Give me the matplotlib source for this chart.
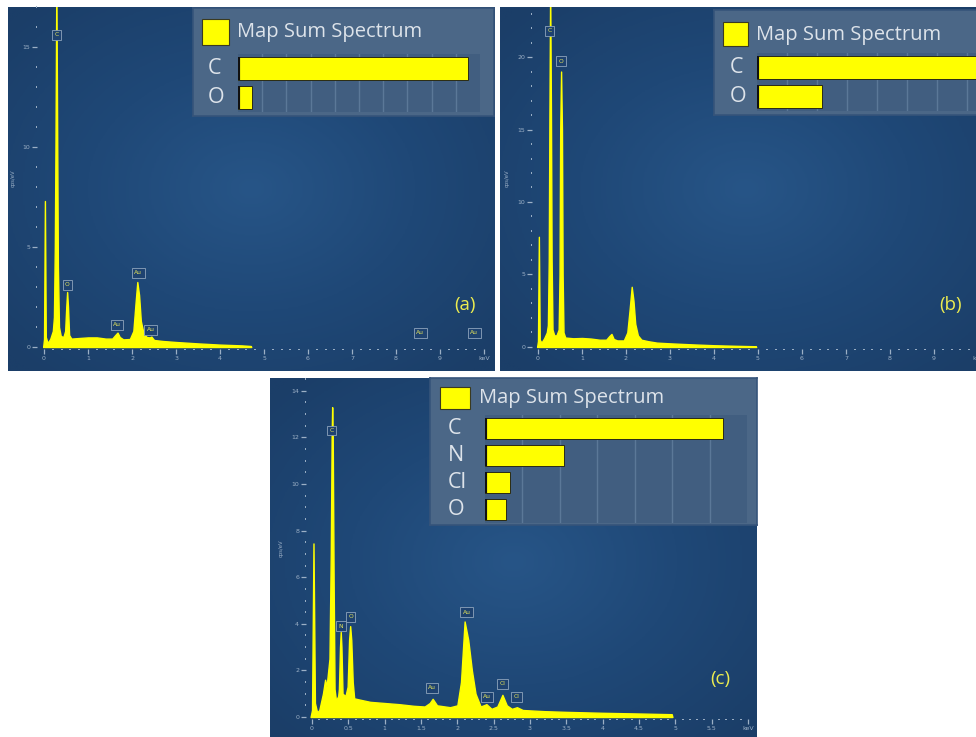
import numpy as np
import matplotlib
matplotlib.use("Agg")
import matplotlib.pyplot as plt
import matplotlib.transforms as mtransforms
from matplotlib.patches import Rectangle
from matplotlib.colors import LinearSegmentedColormap

W, H = 976, 737

# --- spectra (energy in keV, counts in cps/eV) ---
a_kev = [-0.02, 0.0, 0.02, 0.04, 0.08, 0.14, 0.2, 0.225, 0.245, 0.26, 0.28, 0.30,
         0.315, 0.34, 0.38, 0.44, 0.48, 0.505, 0.525, 0.545, 0.57, 0.62, 0.8, 1.0,
         1.2, 1.4, 1.55, 1.62, 1.67, 1.72, 1.8, 1.95, 2.03, 2.08, 2.12, 2.16, 2.2,
         2.26, 2.33, 2.4, 2.44, 2.5, 2.7, 3.0, 3.5, 4.0, 4.5, 4.7, 4.71]
a_cps = [0, 0.4, 7.3, 0.5, 0.2, 0.4, 0.8, 1.5, 5.0, 10.0, 18.5, 10.0,
         4.0, 1.0, 0.55, 0.5, 0.8, 2.0, 2.75, 2.0, 0.6, 0.42, 0.45, 0.48,
         0.48, 0.42, 0.42, 0.6, 0.72, 0.5, 0.38, 0.4, 0.8, 2.2, 3.25, 2.6, 1.3,
         0.7, 0.5, 0.48, 0.52, 0.35, 0.3, 0.25, 0.18, 0.12, 0.08, 0.05, 0]

b_kev = [-0.02, 0.0, 0.02, 0.04, 0.08, 0.14, 0.2, 0.225, 0.245, 0.26, 0.277, 0.295,
         0.31, 0.33, 0.37, 0.42, 0.47, 0.49, 0.505, 0.525, 0.545, 0.56, 0.58, 0.62,
         0.8, 1.0, 1.2, 1.4, 1.55, 1.62, 1.67, 1.72, 1.8, 1.95, 2.03, 2.08, 2.13,
         2.17, 2.21, 2.27, 2.35, 2.5, 2.7, 3.0, 3.5, 4.0, 4.5, 4.95, 4.96]
b_cps = [0, 0.4, 7.6, 0.5, 0.3, 0.6, 1.0, 1.5, 6.0, 16.0, 25.0, 16.0,
         6.0, 1.2, 0.8, 0.8, 1.2, 5.0, 15.0, 19.0, 15.0, 5.0, 1.0, 0.65,
         0.6, 0.62, 0.58, 0.5, 0.5, 0.75, 0.9, 0.55, 0.45, 0.45, 1.0, 2.5, 4.15,
         3.2, 1.6, 0.8, 0.5, 0.4, 0.3, 0.25, 0.18, 0.12, 0.08, 0.05, 0]

c_kev = [-0.02, 0.0, 0.02, 0.04, 0.07, 0.1, 0.15, 0.18, 0.2, 0.22, 0.24, 0.258,
         0.27, 0.277, 0.285, 0.297, 0.31, 0.33, 0.36, 0.37, 0.385, 0.395, 0.405,
         0.42, 0.46, 0.49, 0.51, 0.525, 0.54, 0.56, 0.58, 0.65, 0.8, 1.0, 1.2, 1.4,
         1.55, 1.62, 1.66, 1.72, 1.9, 2.0, 2.05, 2.1, 2.15, 2.2, 2.25, 2.32, 2.4,
         2.47, 2.55, 2.62, 2.68, 2.75, 2.82, 2.9, 3.2, 3.5, 4.0, 4.5, 4.95, 4.96]
c_cps = [0, 0.3, 7.45, 0.6, 0.2, 0.3, 1.0, 1.6, 1.3, 1.9, 2.5, 7.0,
         12.0, 13.3, 12.0, 6.0, 1.2, 0.7, 0.9, 1.2, 3.0, 3.65, 3.0,
         1.0, 0.9, 1.3, 3.3, 3.9, 3.3, 1.5, 0.8, 0.75, 0.65, 0.6, 0.55, 0.48,
         0.45, 0.6, 0.78, 0.5, 0.42, 0.5, 1.5, 4.1, 3.3, 2.0, 1.0, 0.45, 0.55,
         0.35, 0.45, 0.95, 0.5, 0.35, 0.42, 0.3, 0.25, 0.22, 0.18, 0.15, 0.12, 0]

# peak markers: element, energy, height of the label box
a_peak_el = ["C", "O", "Au", "Au", "Au", "Au", "Au"]
a_peak_kev = [0.29, 0.53, 1.66, 2.14, 2.42, 8.55, 9.78]
a_peak_cps = [15.6, 3.1, 1.1, 3.7, 0.85, 0.7, 0.7]

b_peak_el = ["C", "O"]
b_peak_kev = [0.27, 0.52]
b_peak_cps = [21.8, 19.7]

c_peak_el = ["C", "N", "O", "Au", "Au", "Au", "Cl", "Cl"]
c_peak_kev = [0.27, 0.40, 0.53, 1.65, 2.13, 2.41, 2.62, 2.81]
c_peak_cps = [12.3, 3.9, 4.3, 1.25, 4.5, 0.86, 1.42, 0.86]

# quantification bars (wt%)
a_elements = ["C", "O"]
a_wt = [95.0, 5.8]
b_elements = ["C", "O"]
b_wt = [78.3, 21.7]
c_elements = ["C", "N", "Cl", "O"]
c_wt = [63.5, 21.0, 6.8, 5.5]

YEL = "#ffff00"
TICK = "#9cb0c6"
TXT = "#dde3ea"
bg_cmap = LinearSegmentedColormap.from_list("bg", ["#275587", "#1f4877", "#1b3e68"])


def rect(x0, y0, x1, y1):
    # pixel box (top-left origin) -> figure fraction
    return [x0 / W, 1 - y1 / H, (x1 - x0) / W, (y1 - y0) / H]


def draw_panel(fig, box, plot_box, xlim, ylim, xmaj, xlab, xmin, ymaj, ymin,
               kev, cps, pk_el, pk_kev, pk_cps, leg_box, sq_box, title_xy,
               bar_box, elements, values, bar_max, el_dx, tag, tag_xy):
    # background with a soft gradient
    bg = fig.add_axes(rect(*box))
    gy, gx = np.mgrid[0:1:200j, 0:1:200j]
    r = np.sqrt(((gx - 0.5) / 0.9) ** 2 + ((gy - 0.5) / 0.9) ** 2)
    bg.imshow(r, cmap=bg_cmap, extent=[0, 1, 0, 1], aspect="auto", vmin=0, vmax=0.75)
    bg.set_axis_off()

    # spectrum
    ax = fig.add_axes(rect(*plot_box))
    ax.patch.set_alpha(0)
    ax.fill_between(kev, cps, 0, facecolor=YEL, edgecolor=YEL, lw=1.0, zorder=2)
    ax.set_xlim(*xlim)
    ax.set_ylim(*ylim)
    for s in ax.spines.values():
        s.set_visible(False)
    ax.set_xticks(xmaj)
    ax.set_xticklabels(xlab)
    ax.set_xticks(xmin, minor=True)
    ax.set_yticks(ymaj)
    ax.set_yticks(ymin, minor=True)
    ax.tick_params(which="major", colors=TICK, labelsize=4.5, length=3.5, width=0.9, pad=1.5)
    ax.tick_params(which="minor", colors=TICK, length=1.0, width=1.4)
    ax.set_ylabel("cps/eV", fontsize=3.8, color=TICK, labelpad=5)
    for el, x, y in zip(pk_el, pk_kev, pk_cps):
        ax.text(x, y, el, ha="center", va="center", fontsize=4.3, color="#e4e45a", zorder=5,
                bbox=dict(boxstyle="square,pad=0.4", fc="#1e4270", ec="#8ea4bc", lw=0.6))

    # legend box
    lg = fig.add_axes(rect(*leg_box))
    lg.set_facecolor("#4b6787")
    lg.set_xticks([])
    lg.set_yticks([])
    for s in lg.spines.values():
        s.set_color("#36547a")
        s.set_linewidth(1.2)
    sq = rect(*sq_box)
    fig.patches.append(Rectangle((sq[0], sq[1]), sq[2], sq[3], transform=fig.transFigure,
                                 facecolor=YEL, edgecolor="#3a3a20", lw=0.8, zorder=5))
    fig.text(title_xy[0] / W, 1 - title_xy[1] / H, "Map Sum Spectrum", fontsize=14.5,
             family="Open Sans", color=TXT, va="center", ha="left", zorder=6)

    bx = fig.add_axes(rect(*bar_box))
    bx.set_facecolor("#415e80")
    rows = np.arange(len(elements))
    bx.barh(rows, values, height=0.76, color=YEL, edgecolor="#2a2a14", lw=0.7, zorder=3)
    bx.vlines(np.zeros(len(rows)), rows - 0.38, rows + 0.38, color="#111111", lw=3, zorder=4)
    bx.set_xlim(0, bar_max)
    bx.set_ylim(len(elements) - 0.5, -0.5)
    bx.set_xticks(np.arange(10, bar_max, 10))
    bx.grid(axis="x", color="#5b7898", lw=1.0, zorder=1)
    bx.set_yticks([])
    bx.tick_params(length=0, labelbottom=False)
    for s in bx.spines.values():
        s.set_visible(False)
    tr = mtransforms.offset_copy(bx.get_yaxis_transform(), fig=fig, x=-el_dx * 0.72, units="points")
    for i, el in enumerate(elements):
        bx.text(0, i, el, transform=tr, ha="left", va="center", fontsize=15.5,
                family="Open Sans", color=TXT)

    fig.text(tag_xy[0] / W, 1 - tag_xy[1] / H, tag, fontsize=13.5, family="Open Sans",
             color="#ecec50", ha="center", va="center", zorder=6)


fig = plt.figure(figsize=(W / 100, H / 100), dpi=100)
fig.patch.set_facecolor("white")

ticks10 = list(range(11))
lab10 = [str(t) for t in range(10)] + ["keV"]

draw_panel(fig, (8, 7, 495, 371), (37, 7, 484, 349), (-0.16, 10.0), (-0.1, 17.0),
           ticks10, lab10, np.arange(0, 10.01, 0.2), [0, 5, 10, 15], np.arange(0, 18, 1),
           a_kev, a_cps, a_peak_el, a_peak_kev, a_peak_cps,
           (193, 8, 494, 116), (202, 19, 229, 45), (237, 32),
           (238, 54, 480, 112), a_elements, a_wt, 100, 30, "(a)", (465, 305))

draw_panel(fig, (500, 7, 990, 371), (532, 7, 978, 349), (-0.136, 10.0), (-0.14, 23.45),
           ticks10, lab10, np.arange(0, 10.01, 0.2), [0, 5, 10, 15, 20], np.arange(0, 24, 1),
           b_kev, b_cps, b_peak_el, b_peak_kev, b_peak_cps,
           (714, 10, 1000, 115), (723, 22, 748, 46), (756, 35),
           (757, 53, 1057, 111), b_elements, b_wt, 100, 27, "(b)", (951, 305))

ticks_c = list(np.arange(0, 6.01, 0.5))
lab_c = ["0", "0.5", "1", "1.5", "2", "2.5", "3", "3.5", "4", "4.5", "5", "5.5", "keV"]
draw_panel(fig, (270, 378, 757, 745), (306, 378, 748, 719), (-0.083, 6.0), (-0.086, 14.55),
           ticks_c, lab_c, np.arange(0, 6.01, 0.1), list(range(0, 15, 2)), np.arange(0, 14.6, 0.5),
           c_kev, c_cps, c_peak_el, c_peak_kev, c_peak_cps,
           (430, 378, 757, 525), (440, 387, 470, 409), (479, 398),
           (485, 415, 747, 523), c_elements, c_wt, 70, 37, "(c)", (720, 679))

fig.savefig("out.png", dpi=100)
